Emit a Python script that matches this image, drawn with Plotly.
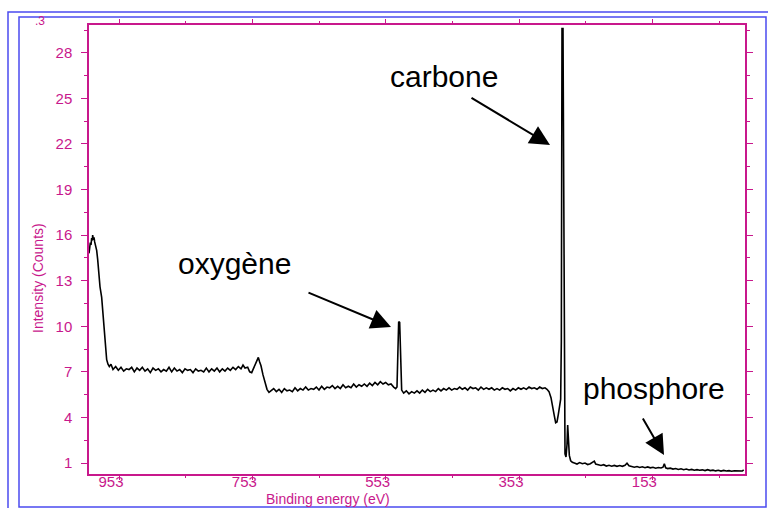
import plotly.graph_objects as go

# ---------------- data (binding energy in eV, intensity in 10^3 counts) ----------------
edge_energy = [998, 997, 996, 995, 994, 993, 992.5, 991.5, 990.5, 989.5,
               988, 986.5, 985, 983.5, 981.5, 979, 976.5, 974, 971.5, 969.5,
               967.5, 965, 962]
edge_intensity = [14.8, 15.2, 15.5, 15.35, 15.8, 15.65, 16.0, 15.7, 15.85, 15.55,
                  15.35, 15.0, 14.4, 13.6, 12.6, 11.9, 10.4, 8.7, 7.8, 7.5,
                  7.35, 7.5, 7.15]

high_energy = [958, 954, 950, 946, 942, 938, 934, 930, 926, 922,
               918, 914, 910, 906, 902, 898, 894, 890, 886, 882,
               878, 874, 870, 866, 862, 858, 854, 850, 846, 842,
               838, 834, 830, 826, 822, 818, 814, 810, 806, 802,
               798, 794, 790, 786, 782, 778, 774, 770,
               767, 764, 760, 757, 754, 751, 748, 746, 744, 742,
               740, 737, 734, 731, 728, 725]
high_intensity = [7.35, 7.1, 7.3, 7.05, 7.2, 7.15, 7.3, 7.0, 7.25, 7.1,
                  7.3, 7.05, 7.2, 6.95, 7.25, 7.1, 7.2, 7.0, 7.15, 7.05,
                  7.3, 7.0, 7.25, 7.05, 7.15, 6.95, 7.2, 7.1, 7.15, 6.95,
                  7.2, 7.05, 7.1, 7.0, 7.25, 7.0, 7.2, 7.05, 7.25, 7.0,
                  7.2, 7.05, 7.25, 7.1, 7.3, 7.15, 7.35, 7.2,
                  7.45, 7.25, 7.3, 7.0, 6.95, 7.25, 7.6, 7.85, 7.95, 7.65,
                  7.4, 6.8, 6.3, 5.85, 5.65, 5.75]

oxygen_energy = [721, 717, 713, 709, 705, 701, 697, 693, 689, 685,
                 681, 677, 673, 669, 665, 661, 657, 653, 649, 645,
                 641, 637, 633, 629, 625, 621, 617, 613, 609, 605,
                 601, 597, 593, 589, 585, 581, 577, 573, 569, 565,
                 561, 557, 553, 549, 545, 541,
                 538, 536, 534.5, 533.5, 532, 530.5, 529, 526]
oxygen_intensity = [5.9, 5.7, 5.85, 5.65, 5.9, 5.75, 5.8, 5.7, 5.95, 5.75,
                    5.9, 5.8, 6.0, 5.8, 5.9, 5.85, 6.0, 5.8, 6.05, 5.85,
                    6.0, 5.95, 6.1, 5.9, 6.05, 5.9, 6.15, 5.95, 6.05, 5.95,
                    6.2, 6.0, 6.15, 6.05, 6.2, 6.05, 6.25, 6.1, 6.3, 6.15,
                    6.35, 6.2, 6.3, 6.15, 6.2, 6.0,
                    5.9, 6.0, 8.5, 10.3, 10.25, 7.5, 5.8, 5.6]

mid_energy = [522, 518, 514, 510, 506, 502, 498, 494, 490, 486,
              482, 478, 474, 470, 466, 462, 458, 454, 450, 446,
              442, 438, 434, 430, 426, 422, 418, 414, 410, 406,
              402, 398, 394, 390, 386, 382, 378, 374, 370, 366,
              362, 358, 354, 350, 346, 342, 338, 334, 330, 326,
              322, 318, 314, 311]
mid_intensity = [5.75, 5.55, 5.7, 5.6, 5.75, 5.6, 5.8, 5.65, 5.85, 5.7,
                 5.8, 5.7, 5.9, 5.75, 5.9, 5.8, 5.95, 5.8, 5.9, 5.85,
                 6.0, 5.85, 5.95, 5.8, 6.0, 5.9, 5.95, 5.8, 6.0, 5.85,
                 5.95, 5.85, 5.95, 5.8, 5.9, 5.8, 5.95, 5.85, 5.9, 5.75,
                 5.9, 5.8, 5.95, 5.85, 5.95, 5.85, 6.0, 5.9, 5.95, 5.85,
                 6.0, 5.9, 5.95, 5.85]

carbon_energy = [308, 305, 302, 300, 298, 296, 294, 292, 290.5, 289.5,
                 288.5, 287, 286, 285, 284, 282.5, 281, 280, 279, 277.5,
                 275.5, 273]
carbon_intensity = [5.7, 5.3, 4.7, 4.1, 3.65, 3.7, 4.2, 4.8, 5.2, 9.0,
                    29.6, 29.6, 15.0, 3.0, 1.6, 1.4, 2.2, 3.5, 2.7, 1.5,
                    1.15, 1.05]

tail_energy = [270, 266, 262, 258, 254, 250, 246, 242, 240, 238,
               234, 230, 226, 222, 218, 214, 210, 206, 202, 198,
               194, 191, 188, 184, 180, 176, 172, 168, 164, 160,
               156, 152, 148, 144, 140, 137, 135, 133, 130, 126,
               122, 118, 114, 110, 106, 102, 98, 94, 90, 86,
               82, 78, 74, 70, 66, 62, 58, 54, 50, 46,
               42, 38, 34, 30, 26, 22, 18, 16]
tail_intensity = [1.0, 0.93, 1.03, 0.95, 1.0, 0.9, 0.95, 1.05, 1.12, 0.93,
                  0.88, 0.84, 0.89, 0.8, 0.85, 0.79, 0.84, 0.78, 0.83, 0.78,
                  0.85, 0.98, 0.82, 0.77, 0.72, 0.77, 0.71, 0.75, 0.69, 0.74,
                  0.68, 0.72, 0.66, 0.7, 0.67, 0.72, 0.95, 0.68, 0.63, 0.66,
                  0.6, 0.64, 0.57, 0.62, 0.56, 0.6, 0.54, 0.58, 0.52, 0.56,
                  0.52, 0.55, 0.5, 0.56, 0.5, 0.53, 0.48, 0.52, 0.47, 0.51,
                  0.47, 0.5, 0.46, 0.49, 0.47, 0.5, 0.47, 0.55]

x_tick_values = [953, 753, 553, 353, 153]
y_tick_values = [1, 4, 7, 10, 13, 16, 19, 22, 25, 28]
peak_labels = ["carbone", "oxygène", "phosphore"]

# ---------------- assemble ----------------
segments = [(edge_energy, edge_intensity), (high_energy, high_intensity),
            (oxygen_energy, oxygen_intensity), (mid_energy, mid_intensity),
            (carbon_energy, carbon_intensity), (tail_energy, tail_intensity)]
energy, intensity = [], []
for e, i in segments:
    n = min(len(e), len(i))
    energy += e[:n]
    intensity += i[:n]

W, H = 768, 508
L, R, T, B = 89, 23, 25, 34
PW, PH = W - L - R, H - T - B


def px(x):
    return (x - L) / PW


def py(y):
    return (H - B - y) / PH


MAG = "#C8188C"
BLUE = "#4B4BF0"

fig = go.Figure()
fig.add_trace(go.Scatter(x=energy, y=intensity, mode="lines",
                         line=dict(color="black", width=1.6), hoverinfo="skip",
                         showlegend=False))

fig.update_layout(
    width=W, height=H, margin=dict(l=L, r=R, t=T, b=B, autoexpand=False),
    paper_bgcolor="white", plot_bgcolor="white",
    font=dict(family="Liberation Sans, Arial, sans-serif", color=MAG, size=14),
    showlegend=False,
)
fig.update_xaxes(
    range=[998, 14], tickmode="array", tickvals=x_tick_values,
    ticktext=[str(v) for v in x_tick_values], automargin=False,
    showgrid=False, zeroline=False, showline=True, linecolor=MAG, linewidth=1.5,
    mirror="ticks", ticks="outside", ticklen=4, tickcolor=MAG, tickwidth=1,
    tickfont=dict(size=15, color=MAG), ticklabelshift=8, ticklabelstandoff=-11,
    minor=dict(tickmode="array", tickvals=[853, 653, 453, 253, 53],
               ticks="outside", ticklen=2, tickcolor=MAG, showgrid=False),
)
fig.update_yaxes(
    range=[0.276, 29.83], tickmode="array", tickvals=y_tick_values,
    ticktext=[str(v) for v in y_tick_values], automargin=False,
    showgrid=False, zeroline=False, showline=True, linecolor=MAG, linewidth=1.5,
    mirror="ticks", ticks="outside", ticklen=6, tickcolor=MAG, tickwidth=1,
    tickfont=dict(size=15, color=MAG), ticklabelstandoff=6,
    minor=dict(tickmode="array",
               tickvals=[2.5, 5.5, 8.5, 11.5, 14.5, 17.5, 20.5, 23.5, 26.5, 29.5],
               ticks="outside", ticklen=3, tickcolor=MAG, showgrid=False),
)

# blue double frame (page pixels)
shapes = []
for (x0, y0, x1, y1, w) in [(8, 12, 772, 512, 1.5), (19, 17, 766, 507, 1.5)]:
    shapes.append(dict(type="rect", xref="paper", yref="paper",
                       x0=px(x0), x1=px(x1), y0=py(y1), y1=py(y0),
                       line=dict(color=BLUE, width=w), fillcolor="rgba(0,0,0,0)",
                       layer="above"))
fig.update_layout(shapes=shapes)

ann = []
# axis titles
ann.append(dict(text="Binding energy (eV)", xref="paper", yref="paper",
                x=px(328), y=py(499), showarrow=False, font=dict(size=14, color=MAG),
                xanchor="center", yanchor="middle"))
ann.append(dict(text="Intensity (Counts)", xref="paper", yref="paper",
                x=px(38), y=py(278), showarrow=False, textangle=-90,
                font=dict(size=14, color=MAG), xanchor="center", yanchor="middle"))
ann.append(dict(text=".3", xref="paper", yref="paper", x=px(40), y=py(21),
                showarrow=False, font=dict(size=12, color=MAG),
                xanchor="center", yanchor="middle"))

# peak labels
for label, (cx, cy) in zip(peak_labels, [(444, 76), (234, 263), (654, 388)]):
    ann.append(dict(text=label, xref="paper", yref="paper", x=px(cx), y=py(cy),
                    showarrow=False, font=dict(size=30, color="black"),
                    xanchor="center", yanchor="middle"))
# arrows
for (tx, ty, ax, ay) in [(550, 145, -80, -48), (391, 327, -84, -35), (664, 455, -22, -38)]:
    ann.append(dict(text="", xref="paper", yref="paper", x=px(tx), y=py(ty),
                    ax=ax, ay=ay, showarrow=True, arrowhead=2, arrowsize=2,
                    arrowwidth=2, arrowcolor="black", standoff=0))
fig.update_layout(annotations=ann)

# the page's default 8px body margin would push the figure off the window
fig.write_html("out.html", config={"displayModeBar": False},
               post_script="document.body.style.margin='0';"
                           "document.body.style.overflow='hidden';")
